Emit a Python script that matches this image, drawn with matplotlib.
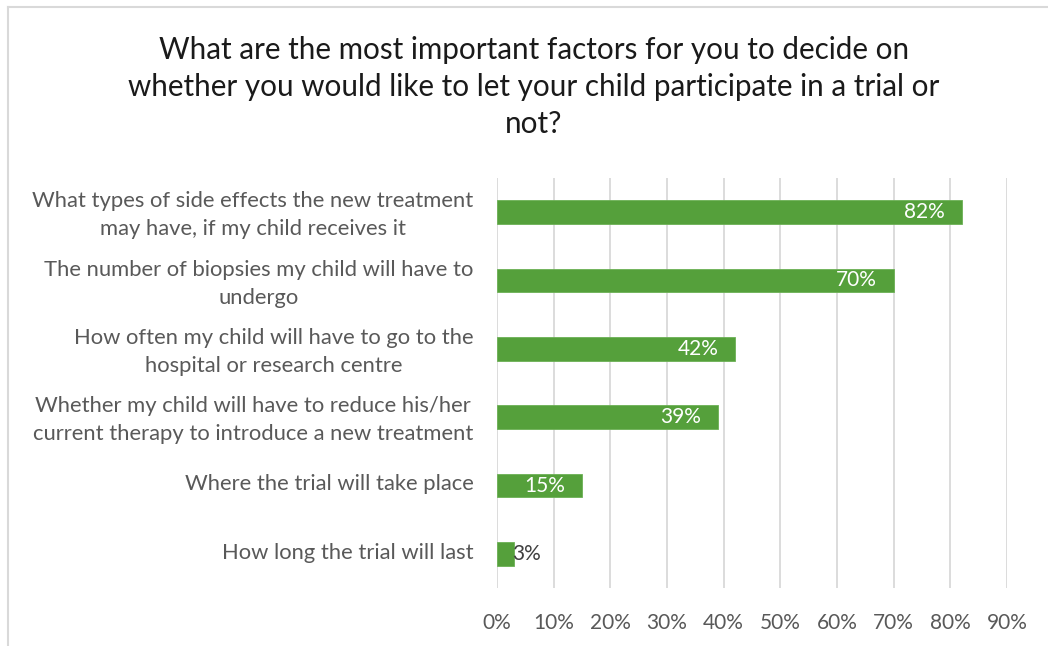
import matplotlib
matplotlib.use("Agg")
import matplotlib.pyplot as plt
from matplotlib.lines import Line2D
from matplotlib.ticker import FuncFormatter
from matplotlib.transforms import ScaledTranslation

plt.rcParams['font.family'] = ['Lato', 'DejaVu Sans']

title = ("What are the most important factors for you to decide on\n"
         "whether you would like to let your child participate in a trial or\n"
         "not?")

categories = [
    "What types of side effects the new treatment\nmay have, if my child receives it",
    "The number of biopsies my child will have to\nundergo",
    "How often my child will have to go to the\nhospital or research centre",
    "Whether my child will have to reduce his/her\ncurrent therapy to introduce a new treatment",
    "Where the trial will take place",
    "How long the trial will last",
]
values = [82, 70, 42, 39, 15, 3]
xticks = [0, 10, 20, 30, 40, 50, 60, 70, 80, 90]

BAR = "#55A03B"
GRID = "#D9D9D9"
TXT = "#595959"
FS = 15.85

W, H = 1048, 646
fig = plt.figure(figsize=(W / 100, H / 100), dpi=100)
ax = fig.add_axes([497 / W, 1 - 588 / H, (1007 - 497) / W, (588 - 178) / H])

pos = list(range(len(categories)))
ax.barh(pos, values, height=0.345, color=BAR, edgecolor="#6CB055", linewidth=0.6, zorder=3)
ax.set_ylim(len(categories) - 0.5, -0.5)
ax.set_xlim(0, 90)
ax.set_xticks(xticks)
ax.xaxis.set_major_formatter(FuncFormatter(lambda v, p: f"{v:.0f}%"))
ax.grid(axis="x", color=GRID, linewidth=1.3, zorder=0)
ax.set_axisbelow(True)
for s in ax.spines.values():
    s.set_visible(False)
ax.tick_params(axis="x", length=0, pad=18, labelsize=15, labelcolor=TXT)
ax.tick_params(axis="y", length=0, pad=17, labelsize=FS, labelcolor=TXT)
ax.set_yticks(pos)
ax.set_yticklabels(categories, ha="right", multialignment="center", linespacing=1.5)
lift = ScaledTranslation(0, 3 / 100, fig.dpi_scale_trans)
for lbl in ax.get_yticklabels():
    lbl.set_transform(lbl.get_transform() + lift)

for p, v in zip(pos, values):
    if v >= 10:
        ax.annotate(f"{v}%", (v, p), xytext=(-12, 0), textcoords="offset points",
                    ha="right", va="center", color="white", fontsize=15, zorder=4)
    else:
        ax.annotate(f"{v}%", (v, p), xytext=(-1, 0), textcoords="offset points",
                    ha="left", va="center", color="#404040", fontsize=15, zorder=4)

fig.text(534 / W, 1 - 87 / H, title, ha="center", va="center", fontsize=21.3,
         color="#1A1A1A", linespacing=1.38)

# chart area frame (top and left edges)
fig.add_artist(Line2D([8 / W, 1], [1 - 7 / H, 1 - 7 / H], transform=fig.transFigure,
                      color=GRID, linewidth=1.5))
fig.add_artist(Line2D([8 / W, 8 / W], [0, 1 - 7 / H], transform=fig.transFigure,
                      color=GRID, linewidth=1.5))

fig.savefig("out.png", dpi=100)
